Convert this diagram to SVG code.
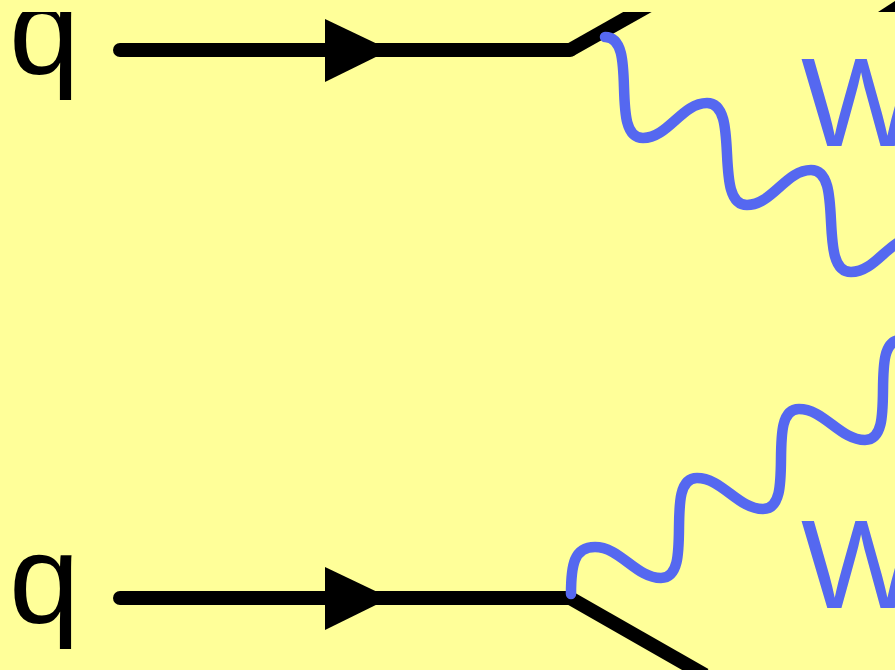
<svg xmlns="http://www.w3.org/2000/svg" xmlns:xlink="http://www.w3.org/1999/xlink" width="895" height="670" viewBox="0 0 895 670">
  <style>
    .label { font-family: "Liberation Sans", Arial, sans-serif; font-size: 127px; }
    .quark { fill: #000000; }
    .boson { fill: #5568f0; }
    .fermion { fill: none; stroke: #000000; stroke-width: 14; stroke-linecap: round; stroke-linejoin: round; }
    .fermion-leg { fill: none; stroke: #000000; stroke-width: 14; stroke-linecap: butt; stroke-linejoin: round; }
    .photon { fill: none; stroke: #5568f0; stroke-width: 10.5; stroke-linecap: round; stroke-linejoin: round; }
  </style>
  <defs>
    <!-- filled arrowhead, tip at origin pointing +x -->
    <polygon id="arrowhead" points="-65,-31 -65,32 0,0" fill="#000000"/>
    <clipPath id="frame">
      <rect x="0" y="12" width="895" height="658"/>
    </clipPath>
  </defs>

  <rect x="0" y="0" width="895" height="670" fill="#ffff99"/>

  <g clip-path="url(#frame)">
    <!-- particle labels -->
    <g id="q-top">
      <text class="label quark" x="9" y="74">q</text>
    </g>
    <g id="q-bottom">
      <text class="label quark" x="9" y="623">q</text>
    </g>
    <g id="W-top">
      <text class="label boson" x="801" y="146">W</text>
    </g>
    <g id="W-bottom">
      <text class="label boson" x="801" y="608">W</text>
    </g>

    <g id="connectors">
      <!-- incoming quark lines -->
      <path class="fermion" d="M120,50 H570"/>
      <path class="fermion-leg" d="M570,50 L680,-12"/>
      <use xlink:href="#arrowhead" x="390" y="50"/>

      <path class="fermion" d="M120,598 H570"/>
      <path class="fermion-leg" d="M570,598 L705,675"/>
      <use xlink:href="#arrowhead" x="390" y="598"/>

      <!-- W boson propagators -->
      <path class="photon" d="M605,37 C640,37 608,138 643,138 C668,138 682,103 707,103 C742,103 712,205 747,205 C772,205 786,170 811,170 C846,170 816,272 851,272 C876,272 890,237 915,237"/>
      <path class="photon" d="M571,594 C571,565 574,547 595,547 C620,547 636,578 661,578 C696,578 662,478 697,478 C722,478 738,509 763,509 C798,509 764,409 799,409 C824,409 840,440 865,440 C900,440 866,340 901,340"/>
    </g>
  </g>

  <!-- corner fragment of an outgoing line -->
  <polygon points="878,12 895,12 895,1" fill="#000000"/>
</svg>
